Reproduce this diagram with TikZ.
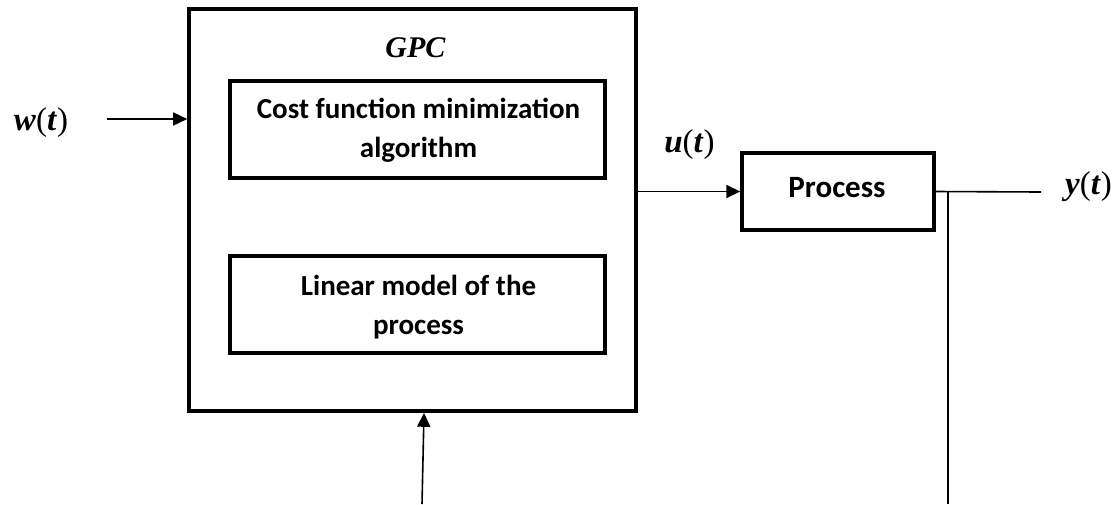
\documentclass[tikz,border=0pt]{standalone}
\usepackage{fontspec}
\setmainfont{Carlito}
\newfontfamily\labelfont{Liberation Serif}
\usetikzlibrary{arrows.meta}
\tikzset{
  outerbox/.style={draw, line width=3.6pt, minimum width=447pt, minimum height=402pt, inner sep=0pt},
  innerbox/.style={draw, line width=3.2pt, minimum width=375pt, minimum height=97pt, inner sep=0pt},
  procbox/.style={draw, line width=3.4pt, minimum width=192pt, minimum height=77pt, inner sep=0pt},
  boxtext/.style={anchor=base, inner sep=0pt, font=\fontsize{29}{39}\selectfont\bfseries},
  proctext/.style={anchor=base, inner sep=0pt, font=\fontsize{31}{37}\selectfont\bfseries},
  sig/.style={anchor=base, inner sep=0pt, font=\fontsize{33}{38}\labelfont},
  wire/.style={line width=1.6pt},
  arr/.style={wire, -{Triangle[length=14pt,width=13pt]}}
}
\newcommand{\sigvar}[1]{\textbf{\textit{#1}}(\textbf{\textit{t}})}
\begin{document}
\begin{tikzpicture}[x=1pt, y=-1pt]
  \useasboundingbox (0,0) rectangle (1118,504);
  % controller and plant blocks
  \node[outerbox] (gpc) at (412.5,210) {};
  \node[sig, font=\fontsize{30}{36}\labelfont] (gpclabel) at (415.5,57) {\textbf{\textit{GPC}}};
  \node[innerbox] (cost) at (417.5,129.5) {};
  \node[boxtext] (costA) at (418.5,118) {Cost function minimization};
  \node[boxtext] (costB) at (418.5,157) {algorithm};
  \node[innerbox] (model) at (417.5,304.5) {};
  \node[boxtext] (modelA) at (418.5,295) {Linear model of the};
  \node[boxtext] (modelB) at (418.5,334) {process};
  \node[procbox] (proc) at (838,191.5) {};
  \node[proctext] (proclabel) at (837,197) {Process};
  % signal labels
  \node[sig] (w) at (41,130) {\sigvar{w}};
  \node[sig] (u) at (689.5,152) {\sigvar{u}};
  \node[sig] (y) at (1088.5,194) {\sigvar{y}};
  % free ends of the wires
  \coordinate (win) at (107,119);
  \coordinate (yout) at (1041,192);
  \coordinate (tap) at (948,192);
  \coordinate (tapend) at (948,504);
  \coordinate (fbin) at (422,504);
  % wires
  \draw[arr] (win) -- (win -| gpc.west);
  \draw[arr] (proc.west -| gpc.east) -- (proc.west);
  \draw[wire] (proc.east) -- (yout);
  \draw[wire] (tap) -- (tapend);
  \draw[arr] (fbin) -- ([xshift=11.5pt]gpc.south);
\end{tikzpicture}
\end{document}
